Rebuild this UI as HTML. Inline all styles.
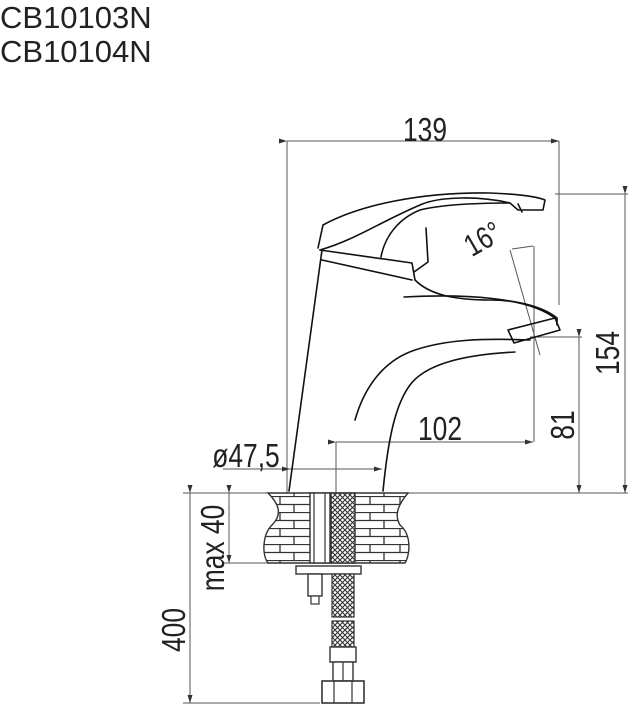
<!DOCTYPE html>
<html><head><style>
html,body{margin:0;padding:0;background:#fff;}
svg{display:block;}
text{font-family:"Liberation Sans",sans-serif;fill:#222;}
</style></head><body>
<svg width="629" height="706" viewBox="0 0 629 706" xmlns="http://www.w3.org/2000/svg">
<defs>
<pattern id="brick" width="30" height="16" patternUnits="userSpaceOnUse">
<rect width="30" height="16" fill="#fff"/>
<path d="M0 0.5H30M0 8.5H30M10 0.5V8.5M24 8.5V16" stroke="#333" stroke-width="1.3" fill="none"/>
</pattern>
<pattern id="mesh" width="5" height="5" patternUnits="userSpaceOnUse">
<rect width="5" height="5" fill="#fff"/>
<path d="M0 0L5 5M5 0L0 5" stroke="#333" stroke-width="1.1"/>
</pattern>
<marker id="a" markerWidth="8" markerHeight="6" refX="8" refY="3" orient="auto" markerUnits="userSpaceOnUse">
<path d="M0 0.5L8 3L0 5.5z" fill="#333"/></marker>
</defs>
<text x="0" y="28" font-size="31">CB10103N</text>
<text x="0" y="62" font-size="31">CB10104N</text>

<g stroke="#555" stroke-width="1" fill="none">
<line x1="287" y1="141" x2="287" y2="493"/>
<line x1="559" y1="141" x2="559" y2="305"/>
<line x1="287" y1="141" x2="559" y2="141" marker-start="url(#a)" marker-end="url(#a)"/>
<line x1="555" y1="194" x2="628" y2="194"/>
<line x1="625" y1="194" x2="625" y2="493" marker-start="url(#a)" marker-end="url(#a)"/>
<line x1="530" y1="337" x2="582" y2="337"/>
<line x1="579" y1="337" x2="579" y2="493" marker-start="url(#a)" marker-end="url(#a)"/>
<line x1="534" y1="246" x2="534" y2="442"/>
<line x1="336" y1="442" x2="336" y2="493"/>
<line x1="336" y1="442" x2="533" y2="442" marker-start="url(#a)" marker-end="url(#a)"/>
<line x1="223" y1="469" x2="290" y2="469"/>
<line x1="290" y1="469" x2="382" y2="469" marker-start="url(#a)" marker-end="url(#a)"/>
<line x1="183" y1="493" x2="628" y2="493"/>
<line x1="222" y1="563" x2="268" y2="563"/>
<line x1="229" y1="493" x2="229" y2="563" marker-start="url(#a)" marker-end="url(#a)"/>
<line x1="183" y1="703" x2="320" y2="703"/>
<line x1="190" y1="493" x2="190" y2="703" marker-start="url(#a)" marker-end="url(#a)"/>
<line x1="510" y1="250" x2="540" y2="355"/>
<line x1="512" y1="249" x2="533" y2="246"/>
</g>

<text font-size="33" text-anchor="middle" transform="translate(425,141) scale(0.8,1)">139</text>
<text font-size="33" text-anchor="middle" transform="translate(440,440) scale(0.8,1)">102</text>
<text font-size="33" text-anchor="middle" transform="translate(246,467) scale(0.8,1)">ø47,5</text>
<text font-size="33" text-anchor="middle" transform="translate(574,425) rotate(-90) scale(0.8,1)">81</text>
<text font-size="33" text-anchor="middle" transform="translate(619,353) rotate(-90) scale(0.8,1)">154</text>
<text font-size="33" text-anchor="middle" transform="translate(224,548) rotate(-90) scale(0.8,1)">max 40</text>
<text font-size="33" text-anchor="middle" transform="translate(185,630) rotate(-90) scale(0.8,1)">400</text>
<text font-size="31" text-anchor="middle" transform="translate(488,248) rotate(-30) scale(0.8,1)">16°</text>

<g stroke="#111" stroke-width="1.6" fill="none" stroke-linecap="round" stroke-linejoin="round">
<path d="M289 491 L322 250"/>
<path d="M383 491 C388 440 395 405 410 385 C425 365 460 355 515 352"/>
<path d="M355 420 C365 385 385 360 415 350 C445 340 480 338 530 340"/>
<path d="M318 248 L323 225 C360 205 420 192 490 193 C515 194 535 196 545 200 L543 210 L518 210 L510 203 C480 196 440 196 420 205 C380 222 355 240 320 250"/>
<path d="M320 250 L412 263 L415 280"/>
<path d="M322 260 L412 280"/>
<path d="M381 257 C385 235 400 218 420 210 C440 205 470 203 510 203"/>
<path d="M426 228 L428 262 L414 272"/>
<path d="M415 280 C430 295 455 300 490 300 C520 300 545 308 557 318 L557 325"/>
<path d="M404 297 C460 294 530 296 557 320"/>
<path d="M508 330 L555 318 L560 330 L514 343 Z"/>
<path d="M518 204 L522 212"/>
</g>

<path d="M268 493 L408 493 C398 505 394 515 400 525 C412 535 410 555 405 563 L268 563 C262 555 262 535 272 525 C282 515 280 505 268 493 Z" fill="url(#brick)" stroke="#333" stroke-width="1.4"/>
<rect x="310" y="493" width="20" height="70" fill="#fff" stroke="#333" stroke-width="1.4"/>
<line x1="314" y1="493" x2="314" y2="563" stroke="#333" stroke-width="1.2"/>
<line x1="325" y1="493" x2="325" y2="563" stroke="#333" stroke-width="1.2"/>
<rect x="331" y="493" width="24" height="70" fill="url(#mesh)" stroke="#333" stroke-width="1.4"/>
<rect x="296" y="566" width="65" height="8" fill="#fff" stroke="#333" stroke-width="1.4"/>
<rect x="308" y="574" width="14" height="22" fill="#fff" stroke="#333" stroke-width="1.4"/>
<rect x="311" y="596" width="8" height="8" fill="#fff" stroke="#333" stroke-width="1.2"/>
<rect x="332" y="574" width="22" height="43" fill="url(#mesh)" stroke="#333" stroke-width="1.2"/>
<rect x="332" y="621" width="22" height="26" fill="url(#mesh)" stroke="#333" stroke-width="1.2"/>
<rect x="330" y="647" width="26" height="15" fill="#fff" stroke="#333" stroke-width="1.4"/>
<rect x="333" y="662" width="20" height="19" fill="#fff" stroke="#333" stroke-width="1.4"/>
<line x1="343" y1="662" x2="343" y2="681" stroke="#333" stroke-width="1.2"/>
<rect x="322" y="681" width="42" height="22" fill="#fff" stroke="#333" stroke-width="1.6"/>
<line x1="334" y1="681" x2="334" y2="703" stroke="#333" stroke-width="1.2"/>
<line x1="352" y1="681" x2="352" y2="703" stroke="#333" stroke-width="1.2"/>
</svg>
</body></html>
